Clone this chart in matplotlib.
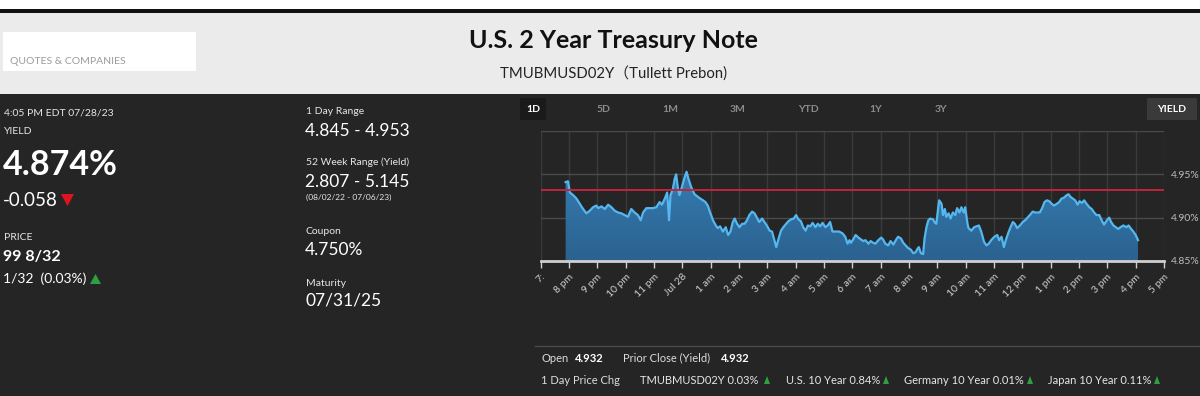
import matplotlib
matplotlib.use("Agg")
import matplotlib.pyplot as plt
import numpy as np
from matplotlib.patches import Rectangle, Polygon
from matplotlib.colors import LinearSegmentedColormap
from matplotlib.transforms import Bbox, TransformedBbox, IdentityTransform

plt.rcParams['font.family'] = ['Lato', 'DejaVu Sans']

# ---------------- data ----------------
title = "U.S. 2 Year Treasury Note"
subtitle = "TMUBMUSD02Y（Tullett Prebon)"

# minutes after 7:00 pm (Jul 27) and yield (%)
minutes = [53, 58, 62, 69, 76, 83, 90, 97, 104, 111, 118, 122, 129, 136, 143, 150, 157, 164, 171, 178,
           185, 192, 199, 206, 212, 217, 224, 231, 238, 245, 252, 257, 263, 268, 272, 275, 280, 284, 287, 291,
           294, 298, 304, 309, 313, 319, 326, 333, 338, 344, 349, 354, 359, 365, 371, 375, 380, 386, 392, 397,
           402, 407, 411, 416, 421, 427, 432, 437, 442, 448, 453, 458, 463, 469, 474, 479, 485, 490, 495, 499,
           504, 509, 514, 520, 525, 530, 536, 541, 546, 551, 556, 561, 566, 571, 576, 582, 587, 592, 597, 603,
           608, 613, 618, 625, 632, 639, 645, 650, 654, 657, 662, 667, 673, 678, 683, 688, 694, 699, 704, 709,
           715, 721, 725, 730, 736, 741, 747, 752, 757, 763, 768, 773, 778, 784, 789, 794, 798, 801, 805, 810,
           813, 817, 821, 825, 831, 835, 838, 842, 844, 849, 852, 856, 859, 864, 868, 873, 878, 882, 887, 891,
           896, 899, 904, 906, 912, 918, 923, 928, 933, 939, 944, 949, 954, 961, 967, 971, 976, 981, 985, 990,
           995, 1000, 1004, 1009, 1015, 1021, 1026, 1031, 1036, 1042, 1047, 1052, 1057, 1062, 1067, 1072, 1077, 1082, 1087, 1093,
           1098, 1103, 1108, 1114, 1118, 1122, 1127, 1132, 1137, 1141, 1146, 1151, 1156, 1162, 1167, 1172, 1177, 1183, 1188, 1193,
           1199, 1204, 1208, 1213, 1218, 1223, 1228, 1234, 1240, 1245, 1249, 1255, 1260, 1265]
yields = [4.941, 4.942, 4.929, 4.926, 4.922, 4.916, 4.910, 4.905, 4.908, 4.912, 4.914, 4.911, 4.913, 4.910, 4.915, 4.912, 4.908, 4.906, 4.905, 4.903,
          4.901, 4.910, 4.906, 4.903, 4.897, 4.906, 4.911, 4.911, 4.911, 4.912, 4.918, 4.915, 4.922, 4.929, 4.897, 4.926, 4.933, 4.945, 4.950, 4.933,
          4.926, 4.933, 4.945, 4.953, 4.945, 4.935, 4.927, 4.924, 4.922, 4.920, 4.918, 4.914, 4.906, 4.897, 4.891, 4.888, 4.890, 4.884, 4.889, 4.880,
          4.884, 4.895, 4.899, 4.893, 4.889, 4.893, 4.893, 4.897, 4.903, 4.907, 4.905, 4.900, 4.895, 4.899, 4.895, 4.891, 4.885, 4.884, 4.874, 4.866,
          4.876, 4.885, 4.889, 4.893, 4.896, 4.898, 4.899, 4.903, 4.898, 4.896, 4.889, 4.885, 4.891, 4.890, 4.894, 4.889, 4.893, 4.890, 4.894, 4.889,
          4.891, 4.895, 4.884, 4.884, 4.884, 4.882, 4.878, 4.870, 4.874, 4.871, 4.875, 4.880, 4.877, 4.875, 4.873, 4.874, 4.870, 4.873, 4.871, 4.870,
          4.874, 4.877, 4.875, 4.870, 4.868, 4.873, 4.869, 4.874, 4.878, 4.876, 4.871, 4.868, 4.865, 4.863, 4.859, 4.860, 4.864, 4.866, 4.859, 4.858,
          4.876, 4.889, 4.897, 4.899, 4.898, 4.894, 4.893, 4.912, 4.920, 4.916, 4.903, 4.910, 4.901, 4.905, 4.899, 4.906, 4.903, 4.911, 4.906, 4.912,
          4.906, 4.912, 4.893, 4.888, 4.885, 4.889, 4.890, 4.891, 4.884, 4.872, 4.868, 4.870, 4.874, 4.878, 4.880, 4.874, 4.878, 4.866, 4.874, 4.882,
          4.889, 4.895, 4.893, 4.888, 4.891, 4.895, 4.897, 4.900, 4.903, 4.907, 4.906, 4.906, 4.906, 4.911, 4.918, 4.920, 4.919, 4.916, 4.914, 4.916,
          4.918, 4.922, 4.923, 4.926, 4.927, 4.924, 4.922, 4.920, 4.915, 4.919, 4.917, 4.920, 4.916, 4.912, 4.910, 4.906, 4.903, 4.903, 4.897, 4.892,
          4.897, 4.900, 4.895, 4.891, 4.889, 4.887, 4.889, 4.891, 4.889, 4.891, 4.888, 4.884, 4.880, 4.874]
assert len(minutes) == len(yields)

prior_close = 4.932
tick_labels = ["7:", "8 pm", "9 pm", "10 pm", "11 pm", "Jul 28", "1 am", "2 am", "3 am", "4 am", "5 am",
               "6 am", "7 am", "8 am", "9 am", "10 am", "11 am", "12 pm", "1 pm", "2 pm", "3 pm", "4 pm", "5 pm"]
y_ticks = [4.85, 4.90, 4.95]
y_tick_labels = ["4.85%", "4.90%", "4.95%"]
tabs = ["1D", "5D", "1M", "3M", "YTD", "1Y", "3Y"]

# ---------------- figure ----------------
W, H = 1200, 396
fig = plt.figure(figsize=(W / 100, H / 100), dpi=100, facecolor="white")


def fx(x):
    return x / W


def fy(y):
    return 1 - y / H


def rect(x0, y0, x1, y1, color, z=0):
    fig.patches.append(Rectangle((fx(x0), fy(y1)), fx(x1) - fx(x0), fy(y0) - fy(y1),
                                 transform=fig.transFigure, facecolor=color, edgecolor="none", zorder=z))


def txt(x, y, s, size, color="white", weight="normal", ha="left", **kw):
    return fig.text(fx(x), fy(y), s, fontsize=size, color=color, fontweight=weight,
                    ha=ha, va="center", **kw)


def tri(x, y, color, up=True, w=11, h=11):
    if up:
        pts = [(x, y + h / 2), (x + w, y + h / 2), (x + w / 2, y - h / 2)]
    else:
        pts = [(x, y - h / 2), (x + w, y - h / 2), (x + w / 2, y + h / 2)]
    fig.patches.append(Polygon([(fx(a), fy(b)) for a, b in pts], closed=True,
                               transform=fig.transFigure, facecolor=color, edgecolor="none"))


# backgrounds
rect(0, 9, W, 13, "#111111")
rect(0, 13, W, 94, "#ebebeb")
rect(0, 94, W, H, "#252525")
rect(3, 32, 196, 71, "#ffffff")

# header
txt(10, 62, "QUOTES & COMPANIES", 7.5, color="#9a9a9a")
txt(613, 41, title, 18, color="#111111", weight="bold", ha="center")
txt(613, 73, subtitle, 10.7, color="#222222", ha="center",
    family=['Lato', 'Noto Sans CJK SC', 'DejaVu Sans'])

# left column
txt(4, 113, "4:05 PM EDT 07/28/23", 7.5, color="#e6e6e6")
txt(4, 131, "YIELD", 7.5, color="#e6e6e6")
txt(3, 165, "4.874%", 24.5, weight="bold")
txt(3, 201, "-0.058", 13.5)
tri(61, 200, "#e0141e", up=False, w=13, h=12)
txt(4, 238, "PRICE", 7.5, color="#e6e6e6")
txt(3, 257, "99 8/32", 11.5, weight="bold")
txt(3, 279, "1/32  (0.03%)", 10)
tri(90, 279, "#2ea043", up=True, w=11, h=10)

# middle column
txt(306, 112, "1 Day Range", 7.5, color="#e6e6e6")
txt(305, 131, "4.845 - 4.953", 12.5)
txt(306, 162, "52 Week Range (Yield)", 7.5, color="#e6e6e6")
txt(305, 182, "2.807 - 5.145", 12.5)
txt(306, 197, "(08/02/22 - 07/06/23)", 6, color="#e6e6e6")
txt(306, 231, "Coupon", 7.5, color="#e6e6e6")
txt(305, 250, "4.750%", 12.5)
txt(306, 283, "Maturity", 7.5, color="#e6e6e6")
txt(305, 301, "07/31/25", 12.5)

# tabs
tab_x = [533, 604, 670, 738, 808, 876, 941]
rect(520, 98, 546, 120, "#1a1a1a")
for lbl, x in zip(tabs, tab_x):
    txt(x, 109, lbl, 7.5, color="white" if lbl == "1D" else "#8c8c8c", weight="bold", ha="center")
rect(1147, 98, 1197, 120, "#3a3a3a")
txt(1172, 109, "YIELD", 7.5, weight="bold", ha="center")

# bottom info
fig.add_artist(plt.Line2D([fx(535), fx(1200)], [fy(346), fy(346)], color="#4a4a4a", lw=1,
                          transform=fig.transFigure))
txt(541, 358, "Open", 8, color="#dcdcdc")
txt(575, 358, "4.932", 8, weight="bold")
txt(623, 358, "Prior Close (Yield)", 8, color="#dcdcdc")
txt(721, 358, "4.932", 8, weight="bold")
txt(541, 380, "1 Day Price Chg", 8, color="#dcdcdc")
row2 = [(640, "TMUBMUSD02Y 0.03%", 764), (786, "U.S. 10 Year 0.84%", 883),
        (904, "Germany 10 Year 0.01%", 1027), (1048, "Japan 10 Year 0.11%", 1154)]
for x, s, tx in row2:
    txt(x, 380, s, 8, color="#e6e6e6")
    tri(tx, 380, "#2ea043", up=True, w=6, h=8)

# ---------------- chart ----------------
x0, x1 = 540.6, 1164.0
ytop, ybot = 131, 261
ax = fig.add_axes([fx(x0), fy(ybot), fx(x1) - fx(x0), fy(ytop) - fy(ybot)])
ax.set_zorder(5)
ax.set_facecolor("none")
xmin, xmax = 0, 1320
ymin, ymax = 4.85, 5.00

for h in range(0, 1321, 60):
    ax.axvline(h, color="#3a3a3a", lw=1, zorder=0)
for v in [4.90, 4.95, 5.00]:
    ax.axhline(v, color="#4a4a4a", lw=1, zorder=0)

# gradient fill clipped to the area under the curve
fill = ax.fill_between(minutes, yields, ymin, facecolor="none", edgecolor="none")
grad = np.linspace(0, 1, 100).reshape(-1, 1)
cmap = LinearSegmentedColormap.from_list("g", ["#2a6290", "#3b86bd"])
im = ax.imshow(grad, extent=[xmin, xmax, ymin, ymax], origin="lower", aspect="auto",
               cmap=cmap, zorder=1, interpolation="bilinear")
im.set_clip_path(fill.get_paths()[0], transform=ax.transData)
ax.plot(minutes, yields, color="#55b7ef", lw=1.6, zorder=3, solid_joinstyle="round")
ax.axhline(prior_close, color="#c0253a", lw=1.4, zorder=4)

ax.set_xlim(xmin, xmax)
ax.set_ylim(ymin, ymax)

hours = list(range(0, 1321, 60))
ax.set_xticks(hours)
ax.set_xticklabels(tick_labels, rotation=45, ha="right", rotation_mode="anchor",
                   fontsize=7.5, color="#cfcfcf")
ax.tick_params(axis="x", direction="out", length=5, width=1, color="#cfcfcf", pad=3)
ax.set_yticks(y_ticks)
ax.set_yticklabels(y_tick_labels, fontsize=7.5, color="#bdbdbd")
ax.yaxis.tick_right()
ax.tick_params(axis="y", length=0, pad=5)

for s in ["top", "right", "left"]:
    ax.spines[s].set_visible(False)
ax.spines["bottom"].set_color("#cfcfcf")
ax.spines["bottom"].set_linewidth(2)

# clip the first tick label at the panel edge
clipbox = TransformedBbox(Bbox([[533, 0], [W, H]]), IdentityTransform())
first = ax.get_xticklabels()[0]
first.set_clip_box(clipbox)
first.set_clip_on(True)

fig.savefig("out.png", dpi=100, facecolor=fig.get_facecolor())
